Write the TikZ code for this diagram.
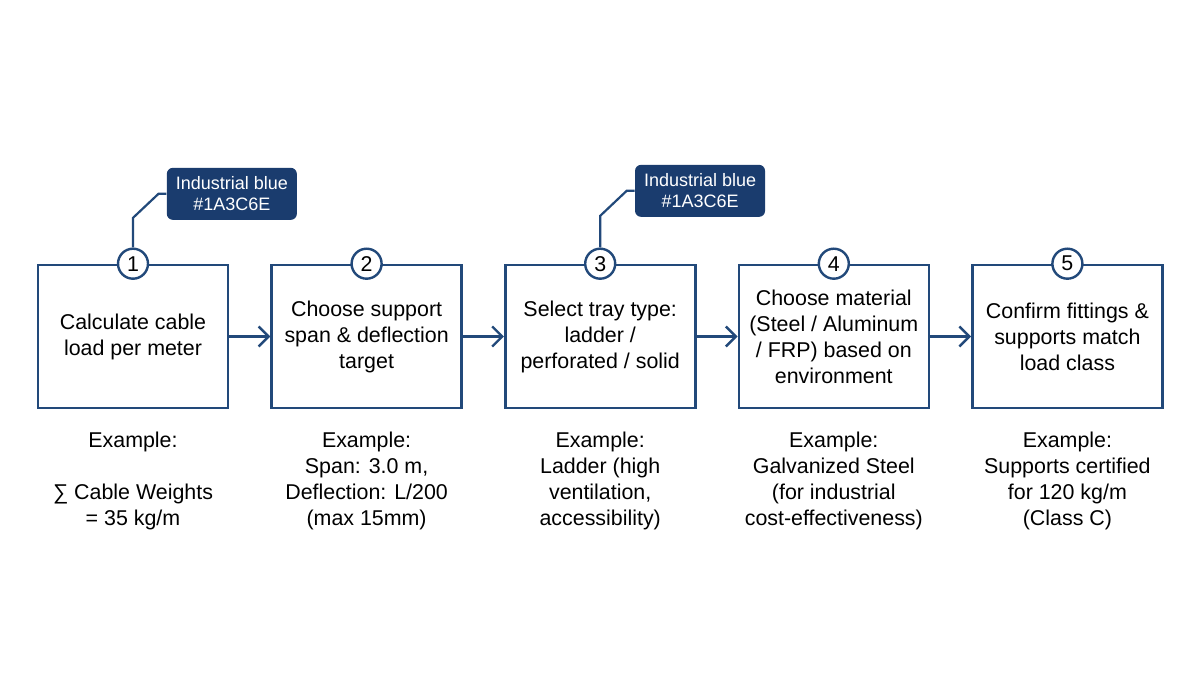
\documentclass[tikz,border=0pt]{standalone}
\usepackage{fontspec}
\setmainfont{Liberation Sans}
\usetikzlibrary{arrows.meta,positioning,calc}
\definecolor{cInd}{HTML}{1A3C6E}
\definecolor{cLine}{HTML}{22497A}
\tikzset{
  font=\fontsize{10.7pt}{13pt}\selectfont,
  stepbox/.style={draw=cLine,line width=1.3pt,fill=white,align=center,
                  minimum width=95pt,minimum height=71.5pt,inner sep=3pt},
  numdot/.style={circle,draw=cLine,line width=1.2pt,fill=white,
                 minimum size=15pt,inner sep=0pt},
  tag/.style={fill=cInd,rounded corners=3pt,text=white,align=center,
              minimum width=65pt,minimum height=26pt,inner sep=2pt,
              font=\fontsize{9pt}{10.5pt}\selectfont},
  flow/.style={-{Straight Barb[length=5pt,width=10pt]},line width=1.2pt,cLine},
  leader/.style={line width=1.1pt,cLine},
  note/.style={align=center,inner sep=0pt},
}

\begin{document}
\begin{tikzpicture}[node distance=20.5pt]
\fill[white] (0,0) rectangle (600pt,337.5pt);
\useasboundingbox (0,0) rectangle (600pt,337.5pt);

% ============ STEP BOXES ============
\node[stepbox] (calc) at (66.5pt,169.25pt) {Calculate cable\\ load per meter};
\node[stepbox, right=of calc] (span) {Choose support\\ span \& deflection\\ target};
\node[stepbox, right=of span] (tray) {Select tray type:\\ ladder /\\ perforated / solid};
\node[stepbox, right=of tray] (mat) {Choose material\\ (Steel / Aluminum\\ / FRP) based on\\ environment};
\node[stepbox, right=of mat] (conf) {Confirm fittings \&\\ supports match\\ load class};

% ---------- step numbers ----------
\node[numdot] (n1) at (calc.north) {1};
\node[numdot] (n2) at (span.north) {2};
\node[numdot] (n3) at (tray.north) {3};
\node[numdot] (n4) at (mat.north) {4};
\node[numdot] (n5) at (conf.north) {5};

% ---------- colour tags ----------
\node[tag, above right=16pt and 11pt of n1] (tag1) {Industrial blue\\ \#1A3C6E};
\node[tag, above right=17.5pt and 11.5pt of n3] (tag2) {Industrial blue\\ \#1A3C6E};
\draw[leader] (n1.north) -- ($(n1.north |- tag1.west)+(0,-12pt)$) -- ($(tag1.west)+(-4pt,0)$) -- (tag1.west);
\draw[leader] (n3.north) -- ($(n3.north |- tag2.west)+(0,-12.5pt)$) -- ($(tag2.west)+(-4pt,0)$) -- (tag2.west);

% ---------- edges ----------
\draw[flow] (calc) -- (span);
\draw[flow] (span) -- (tray);
\draw[flow] (tray) -- (mat);
\draw[flow] (mat) -- (conf);

% ============ EXAMPLES ============
\node[note, below=11pt of calc] (ex1) {Example:\\[13pt] ∑ Cable Weights\\ = 35 kg/m};
\node[note, below=11pt of span] (ex2) {Example:\\ Span: 3.0 m,\\ Deflection: L/200\\ (max 15mm)};
\node[note, below=11pt of tray] (ex3) {Example:\\ Ladder (high\\ ventilation,\\ accessibility)};
\node[note, below=11pt of mat] (ex4) {Example:\\ Galvanized Steel\\ (for industrial\\ cost-effectiveness)};
\node[note, below=11pt of conf] (ex5) {Example:\\ Supports certified\\ for 120 kg/m\\ (Class C)};

\end{tikzpicture}
\end{document}
